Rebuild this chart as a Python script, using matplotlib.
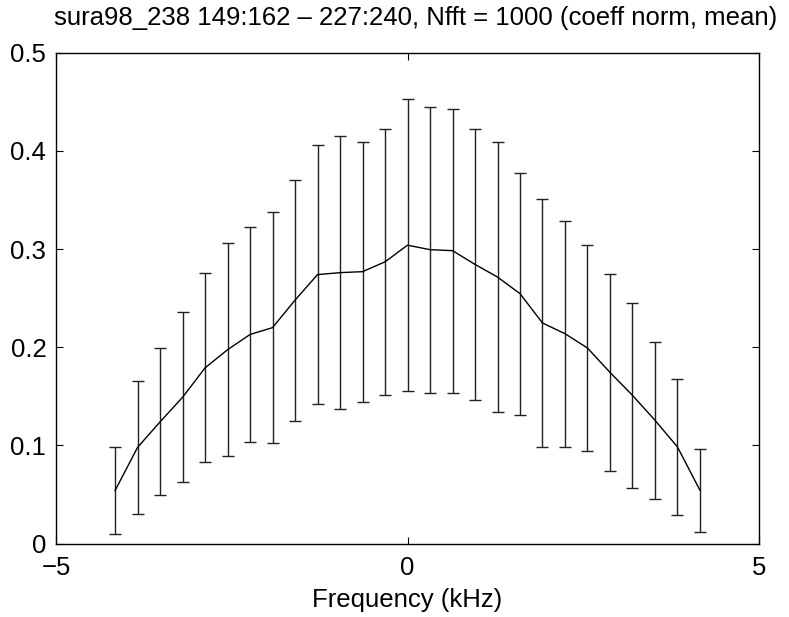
import numpy as np
import matplotlib
matplotlib.use("Agg")
import matplotlib.pyplot as plt

plt.rcParams['font.family'] = ['Liberation Sans', 'DejaVu Sans']

# frequency bins (kHz), mean coefficient and spread
freq = np.arange(-13, 14) * 0.32
mean = [0.054, 0.098, 0.124, 0.149, 0.179, 0.1975, 0.213, 0.220, 0.248,
        0.274, 0.276, 0.277, 0.287, 0.304, 0.2994, 0.2984, 0.2844, 0.2715,
        0.2546, 0.2247, 0.2138, 0.1992, 0.1744, 0.151, 0.1256, 0.0984, 0.0543]
err = [0.044, 0.068, 0.075, 0.0866, 0.0963, 0.1085, 0.1098, 0.1176, 0.1227,
       0.1316, 0.1389, 0.1325, 0.1358, 0.1488, 0.1455, 0.1447, 0.1383, 0.1375,
       0.1232, 0.1263, 0.1152, 0.1045, 0.1003, 0.0944, 0.080, 0.0688, 0.0423]

xticks = [-5, 0, 5]
xticklabels = ['\u22125', '0', '5']
yticks = [0, 0.1, 0.2, 0.3, 0.4, 0.5]
yticklabels = ['0', '0.1', '0.2', '0.3', '0.4', '0.5']

fs = 18.5

fig = plt.figure(figsize=(7.89, 6.17), dpi=100)
ax = fig.add_axes([0.071, 0.119, 0.891, 0.7955])

ax.errorbar(freq, mean, yerr=err, color='black', ecolor='#222222',
            elinewidth=1.0, linewidth=1.0, capsize=4, capthick=1.0)

ax.set_xlim(-5, 5)
ax.set_ylim(0, 0.5)
ax.set_xticks(xticks)
ax.set_xticklabels(xticklabels)
ax.set_yticks(yticks)
ax.set_yticklabels(yticklabels)
ax.tick_params(direction='in', length=5, width=0.8, top=True, right=True,
               labelsize=fs)
ax.tick_params(axis='x', pad=9)
ax.tick_params(axis='y', pad=7)
for s in ax.spines.values():
    s.set_linewidth(1.0)

ax.set_xlabel('Frequency (kHz)', fontsize=fs, labelpad=6)
fig.text(0.527, 0.971, 'sura98_238 149:162 \u2013 227:240, Nfft = 1000 (coeff norm, mean)',
         ha='center', va='center', fontsize=fs)

fig.savefig('out.png', dpi=100)
